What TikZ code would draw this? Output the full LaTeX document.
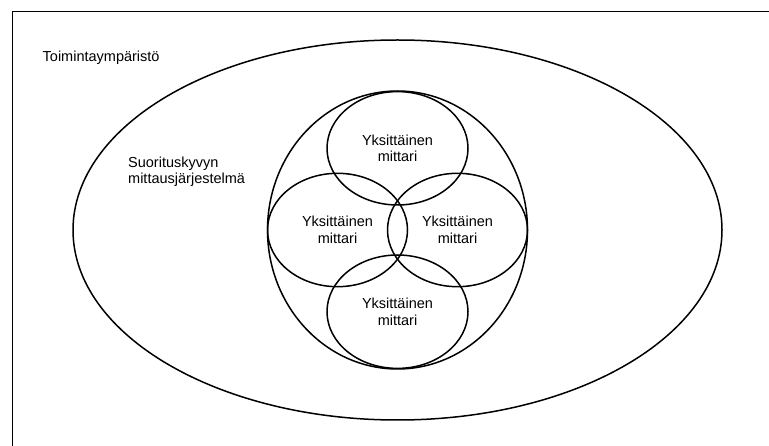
\documentclass[tikz,border=0pt]{standalone}
\usepackage{fontspec}
\setmainfont{Liberation Sans}
\usetikzlibrary{shapes.geometric}
\begin{document}
\begin{tikzpicture}[x=1pt,y=-1pt,
  frameline/.style={line width=1.9pt,black},
  ring/.style={ellipse,draw,line width=1.5pt,inner sep=0pt,align=center,
    font=\fontsize{14.5}{16.5}\selectfont},
  label/.style={inner sep=0pt,align=left,font=\fontsize{14.5}{16.5}\selectfont}]
\useasboundingbox (0,0) rectangle (769,446);
\coordinate (ftr) at (769,11.5);
\coordinate (ftl) at (12.5,11.5);
\coordinate (fbl) at (12.5,446);
\draw[frameline] (ftr) -- (ftl) -- (fbl);
\node[ring,minimum width=649pt,minimum height=380pt] (env) at (397.5,230) {};
\node[ring,minimum width=260pt,minimum height=278pt] (sys) at (397.5,230) {};
\node[ring,minimum width=141pt,minimum height=113.4pt] (m1) at (397.5,148.3) {Yksittäinen\\mittari};
\node[ring,minimum width=140pt,minimum height=113.4pt] (m2) at (337.5,230) {Yksittäinen\\mittari};
\node[ring,minimum width=140pt,minimum height=113.4pt] (m3) at (457.5,230) {Yksittäinen\\mittari};
\node[ring,minimum width=141pt,minimum height=113.4pt] (m4) at (397.5,311.7) {Yksittäinen\\mittari};
\node[label,anchor=base west] (envlabel) at (42.5,61.7) {Toimintaympäristö};
\node[label,anchor=north west] (syslabel) at (128,156.5) {Suorituskyvyn\\mittausjärjestelmä};
\end{tikzpicture}
\end{document}
